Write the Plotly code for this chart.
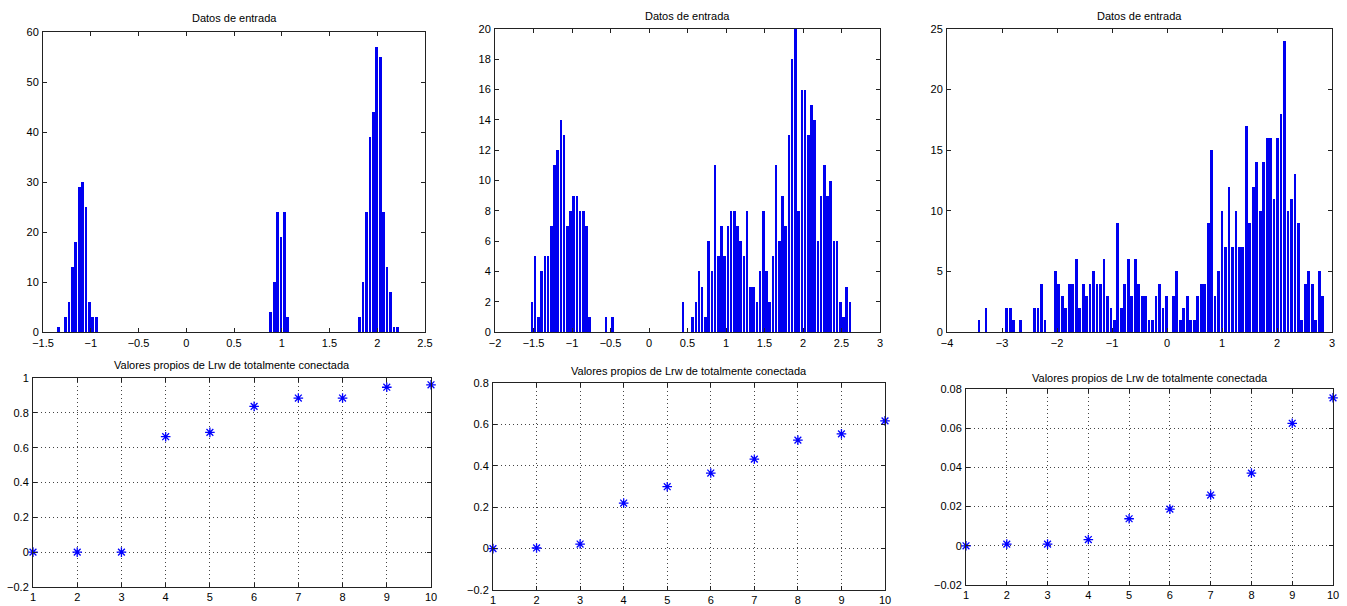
import plotly.graph_objects as go

W, H = 1347, 606

# ---------------- Data ----------------
# Histogram 1 (100 bins between h1_lo and h1_hi)
h1_lo, h1_hi = -1.354, 2.228
h1_counts = [1, 0, 3, 6, 13, 18, 29, 30, 25, 6, 3, 3] + [0] * 50 + \
            [4, 10, 24, 19, 24, 3] + [0] * 20 + \
            [3, 10, 24, 39, 44, 57, 55, 24, 13, 8, 1, 1]

# Histogram 2
h2_lo, h2_hi = -1.541, 2.631
h2_counts = [2, 5, 1, 4, 5, 5, 7, 11, 12, 14, 13, 7, 8, 9, 9, 8, 8, 7, 1,
             0, 0, 0, 0, 1, 0, 1] + [0] * 21 + \
            [2, 0, 0, 1, 2, 4, 3, 1, 6, 4, 11, 5, 7, 5, 7, 8, 8, 7, 6, 5, 8,
             3, 3, 2, 4, 8, 4, 2, 5, 11, 6, 9, 7, 13, 18, 20, 8, 16, 16, 13,
             15, 14, 6, 9, 11, 9, 10, 6, 6, 2, 1, 3, 2]

# Histogram 3
h3_lo, h3_hi = -3.450, 2.862
h3_counts = [1, 0, 2, 0, 0, 0, 0, 0, 2, 2, 1, 0, 1, 0, 0, 0, 2, 2, 4, 1,
             0, 0, 5, 4, 3, 2, 4, 4, 6, 2, 4, 3, 4, 5, 4, 4, 6, 3, 2, 1,
             9, 2, 4, 6, 3, 6, 4, 3, 3, 1, 1, 3, 4, 2, 3, 0, 3, 5, 1, 2,
             3, 1, 1, 3, 4, 4, 9, 15, 3, 5, 10, 7, 12, 7, 10, 7, 7, 17, 9, 12,
             14, 10, 14, 16, 16, 11, 16, 18, 24, 10, 11, 13, 9, 1, 4, 5, 4, 1, 5, 3]

# Eigenvalues
eig_idx = [1, 2, 3, 4, 5, 6, 7, 8, 9, 10]
eig1 = [0.0, 0.0, 0.0, 0.663, 0.688, 0.837, 0.885, 0.885, 0.947, 0.961]
eig2 = [0.0, 0.003, 0.022, 0.220, 0.299, 0.365, 0.432, 0.524, 0.554, 0.617]
eig3 = [0.0, 0.00085, 0.00085, 0.0032, 0.0138, 0.0187, 0.0259, 0.0371, 0.0625, 0.0755]

hist_title = "Datos de entrada"
eig_title = "Valores propios de Lrw de totalmente conectada"

# ---------------- Layout helpers ----------------
BLUE = "#0000f0"
FONT = "Liberation Sans, Arial, sans-serif"


def centers(lo, hi, n):
    w = (hi - lo) / n
    return [lo + (i + 0.5) * w for i in range(n)], w


# panel pixel boxes: (left, right, top, bottom)
boxes = [
    (43, 425, 32, 332),
    (495, 880, 29, 332),
    (947, 1332, 29, 332),
    (33, 431, 378, 587),
    (493, 885, 383, 590),
    (966, 1333, 389, 585),
]
title_y = [18, 16, 16, 365, 371, 378]

fig = go.Figure()

hists = [(h1_lo, h1_hi, h1_counts), (h2_lo, h2_hi, h2_counts), (h3_lo, h3_hi, h3_counts)]
for k, (lo, hi, cnt) in enumerate(hists):
    xs, w = centers(lo, hi, len(cnt))
    ax = "" if k == 0 else str(k + 1)
    fig.add_trace(go.Bar(x=xs, y=cnt, width=w * 0.8, marker=dict(color=BLUE, line=dict(width=0)),
                         xaxis="x" + ax, yaxis="y" + ax, showlegend=False))

for k, ev in enumerate([eig1, eig2, eig3]):
    ax = str(k + 4)
    fig.add_trace(go.Scatter(x=eig_idx, y=ev, mode="markers", cliponaxis=False,
                             marker=dict(symbol="asterisk-open", size=8, color="#0000ff",
                                         line=dict(color="#0000ff", width=1.3)),
                             xaxis="x" + ax, yaxis="y" + ax, showlegend=False))

x_ranges = [[-1.5, 2.5], [-2, 3], [-4, 3], [1, 10], [1, 10], [1, 10]]
x_dticks = [0.5, 0.5, 1, 1, 1, 1]
y_ranges = [[0, 60], [0, 20], [0, 25], [-0.2, 1], [-0.2, 0.8], [-0.02, 0.08]]
y_dticks = [10, 2, 5, 0.2, 0.2, 0.02]

layout = dict(template="none", width=W, height=H, margin=dict(l=0, r=0, t=0, b=0, pad=0),
              paper_bgcolor="white", plot_bgcolor="white", bargap=0,
              font=dict(family=FONT, size=11, color="black"), annotations=[])

for k, (l, r, t, b) in enumerate(boxes):
    sfx = "" if k == 0 else str(k + 1)
    grid = k >= 3
    common = dict(showline=True, linecolor="#222222", linewidth=1, mirror="allticks",
                  ticks="inside", ticklen=4, tickcolor="#222222", zeroline=False,
                  showgrid=grid, gridcolor="#444444", griddash="1px,3px", gridwidth=1,
                  automargin=False,
                  tickfont=dict(family=FONT, size=11, color="black"), fixedrange=True)
    layout["xaxis" + sfx] = dict(common, domain=[l / W, r / W], range=x_ranges[k],
                                 tick0=x_ranges[k][0], dtick=x_dticks[k],
                                 anchor="y" + sfx, ticklabelstandoff=(0 if grid else 1))
    layout["yaxis" + sfx] = dict(common, domain=[1 - b / H, 1 - t / H], range=y_ranges[k],
                                 tick0=y_ranges[k][0], dtick=y_dticks[k],
                                 anchor="x" + sfx, ticklabelstandoff=1)
    layout["annotations"].append(dict(
        text=hist_title if k < 3 else eig_title, xref="paper", yref="paper",
        x=(l + r) / 2 / W, y=1 - title_y[k] / H, xanchor="center", yanchor="middle",
        showarrow=False, font=dict(family=FONT, size=11, color="black")))

fig.update_layout(**layout)
fig.write_html("out.html")
